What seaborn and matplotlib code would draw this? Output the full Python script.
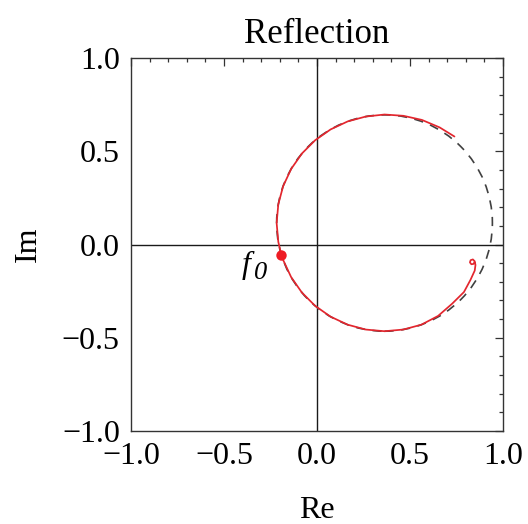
import matplotlib
matplotlib.use("Agg")
import matplotlib.pyplot as plt
from matplotlib.patches import Circle
from matplotlib.ticker import MultipleLocator, FuncFormatter
import seaborn as sns
import pandas as pd

# Measured reflection coefficient S11 (real / imaginary parts)
re_vals = [0.739, 0.659, 0.564, 0.465, 0.363, 0.262, 0.165, 0.073, -0.010,
           -0.081, -0.139, -0.182, -0.208, -0.217, -0.208, -0.192, -0.182,
           -0.139, -0.081, -0.010, 0.073, 0.165, 0.262, 0.363, 0.464, 0.561,
           0.651, 0.726, 0.790, 0.825, 0.848, 0.852, 0.848, 0.838, 0.826,
           0.822, 0.830, 0.842, 0.846]
im_vals = [0.579, 0.628, 0.668, 0.690, 0.697, 0.686, 0.660, 0.617, 0.559,
           0.488, 0.405, 0.313, 0.216, 0.115, 0.014, -0.054, -0.083,
           -0.175, -0.258, -0.329, -0.387, -0.430, -0.456, -0.465, -0.456,
           -0.430, -0.383, -0.318, -0.255, -0.190, -0.140, -0.110, -0.090,
           -0.080, -0.084, -0.096, -0.106, -0.104, -0.095]

# Resonance point f0
f0_re, f0_im = -0.192, -0.054

# Fitted resonance circle
circle_center = (0.363, 0.115)
circle_radius = 0.580

df = pd.DataFrame({"Re": re_vals, "Im": im_vals})

sns.set_theme(style="white")
plt.rcParams["font.family"] = ["Liberation Serif", "DejaVu Serif"]
plt.rcParams["axes.unicode_minus"] = True
plt.rcParams["text.color"] = "black"
plt.rcParams["axes.labelcolor"] = "black"

fig = plt.figure(figsize=(5.28, 5.24), dpi=100)
ax = fig.add_axes([131 / 528, (524 - 431) / 524, 372 / 528, 373 / 524])

# axes through the origin
ax.axhline(0, color="#1a1a1a", lw=1.0, zorder=1)
ax.axvline(0, color="#1a1a1a", lw=1.0, zorder=1)

# fitted circle (dashed)
ax.add_patch(Circle(circle_center, circle_radius, fill=False,
                    edgecolor="#404040", lw=1.2, ls=(0, (5.5, 4.5)), zorder=2))

# measured trace
sns.lineplot(data=df, x="Re", y="Im", sort=False, estimator=None,
             color="#e3262e", lw=1.25, ax=ax, zorder=3)

# resonance marker and its label
ax.plot([f0_re], [f0_im], "o", color="#ee1c24", ms=7.5, mec="none", zorder=4)
ax.text(-0.405, -0.153, "f", fontsize=23, style="italic", ha="left",
        va="baseline", color="black", zorder=5)
ax.text(-0.338, -0.186, "0", fontsize=19, style="italic", ha="left",
        va="baseline", color="black", zorder=5)

ax.set_xlim(-1, 1)
ax.set_ylim(-1, 1)

ax.xaxis.set_major_locator(MultipleLocator(0.5))
ax.yaxis.set_major_locator(MultipleLocator(0.5))
ax.xaxis.set_minor_locator(MultipleLocator(0.1))
ax.yaxis.set_minor_locator(MultipleLocator(0.1))
fmt = FuncFormatter(lambda v, p: f"{v:.1f}".replace("-", "\u2212"))
ax.xaxis.set_major_formatter(fmt)
ax.yaxis.set_major_formatter(fmt)

ax.tick_params(which="both", direction="in", top=True, right=True,
               color="#333333", labelsize=23, labelcolor="black")
ax.tick_params(which="major", length=5.5, width=0.9, pad=8)
ax.tick_params(which="minor", length=3, width=0.9)

for s in ax.spines.values():
    s.set_color("#333333")
    s.set_linewidth(1.0)

ax.set_xlabel("Re", fontsize=23, labelpad=18, color="black")
ax.set_ylabel("Im", fontsize=23, labelpad=14, color="black")
ax.set_title("Reflection", fontsize=25, pad=11, color="black")

fig.savefig("out.png", dpi=100)
